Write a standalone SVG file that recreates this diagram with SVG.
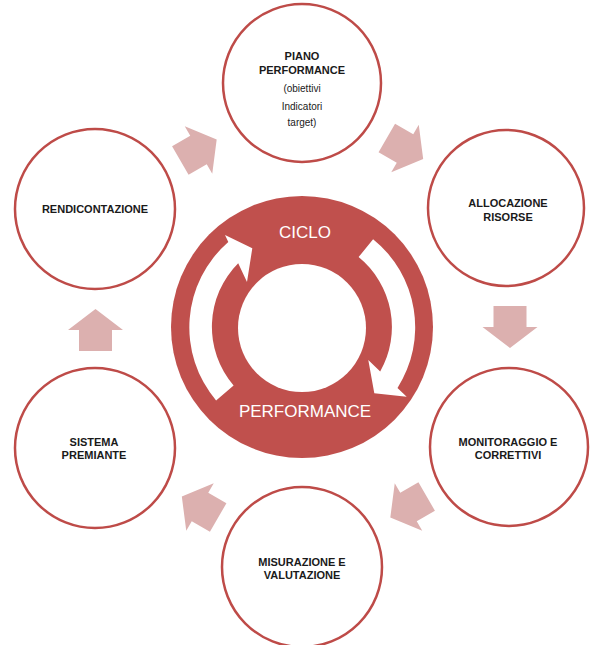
<svg xmlns="http://www.w3.org/2000/svg" xmlns:xlink="http://www.w3.org/1999/xlink" width="590" height="645" viewBox="0 0 590 645">
  <style>
    .node { fill: #FFFFFF; stroke: #BE4B48; stroke-width: 2.5; }
    .lbl { font-family: "Liberation Sans", Arial, sans-serif; font-size: 11px; font-weight: bold; fill: #1a1a1a; text-anchor: middle; }
    .sub { font-family: "Liberation Sans", Arial, sans-serif; font-size: 10px; fill: #1a1a1a; text-anchor: middle; }
    .conn { fill: #DCB0AF; }
    .hub { fill: #C0504D; }
    .hubtxt { font-family: "Liberation Sans", Arial, sans-serif; font-size: 17px; fill: #FFFFFF; text-anchor: middle; }
  </style>
  <defs>
    <path id="arr" d="M-21,-16.5 L0,-16.5 L0,-27.5 L21,0 L0,27.5 L0,16.5 L-21,16.5 Z"/>
  </defs>
  <rect width="590" height="645" fill="#FFFFFF"/>

  <g id="hub">
    <circle class="hub" cx="302" cy="327" r="131"/>
    <circle cx="302" cy="328" r="64" fill="#FFFFFF"/>
    <path fill="#FFFFFF" d="M216.1,400.4 A113,113 0 0 1 228.3,242 L225,235 L252.3,248.3 L247,282 L238.2,263.2 A90,90 0 0 0 233.6,385.4 Z"/>
    <path fill="#FFFFFF" d="M373.1,239.2 A113,113 0 0 1 397.5,387.9 L406.7,396.7 L374.3,393.3 L368.3,360 L380.2,371.4 A90,90 0 0 0 358.6,257.1 Z"/>
    <text class="hubtxt" x="305" y="238">CICLO</text>
    <text class="hubtxt" x="305" y="417">PERFORMANCE</text>
  </g>

  <g id="connectors">
    <use xlink:href="#arr" class="conn" transform="translate(198.5,150) rotate(-30)"/>
    <use xlink:href="#arr" class="conn" transform="translate(405,148.5) rotate(30)"/>
    <use xlink:href="#arr" class="conn" transform="translate(510,327) rotate(90)"/>
    <use xlink:href="#arr" class="conn" transform="translate(408.5,507) rotate(150)"/>
    <use xlink:href="#arr" class="conn" transform="translate(200,507) rotate(210)"/>
    <use xlink:href="#arr" class="conn" transform="translate(95.5,330) rotate(-90)"/>
  </g>

  <g id="piano">
    <circle class="node" cx="302" cy="83" r="79"/>
    <text class="lbl" x="302" y="60">PIANO</text>
    <text class="lbl" x="302" y="74">PERFORMANCE</text>
    <text class="sub" x="302" y="92">(obiettivi</text>
    <text class="sub" x="302" y="110">Indicatori</text>
    <text class="sub" x="302" y="126">target)</text>
  </g>

  <g id="allocazione">
    <circle class="node" cx="506" cy="208" r="78"/>
    <text class="lbl" x="508" y="207">ALLOCAZIONE</text>
    <text class="lbl" x="508" y="221">RISORSE</text>
  </g>

  <g id="monitoraggio">
    <circle class="node" cx="509" cy="447" r="79"/>
    <text class="lbl" x="508" y="446">MONITORAGGIO E</text>
    <text class="lbl" x="508" y="459">CORRETTIVI</text>
  </g>

  <g id="misurazione">
    <circle class="node" cx="302" cy="567" r="80"/>
    <text class="lbl" x="302" y="566">MISURAZIONE E</text>
    <text class="lbl" x="302" y="579">VALUTAZIONE</text>
  </g>

  <g id="sistema">
    <circle class="node" cx="95" cy="448" r="80"/>
    <text class="lbl" x="94" y="446">SISTEMA</text>
    <text class="lbl" x="94" y="459">PREMIANTE</text>
  </g>

  <g id="rendicontazione">
    <circle class="node" cx="95" cy="209" r="80"/>
    <text class="lbl" x="95" y="213">RENDICONTAZIONE</text>
  </g>
</svg>
